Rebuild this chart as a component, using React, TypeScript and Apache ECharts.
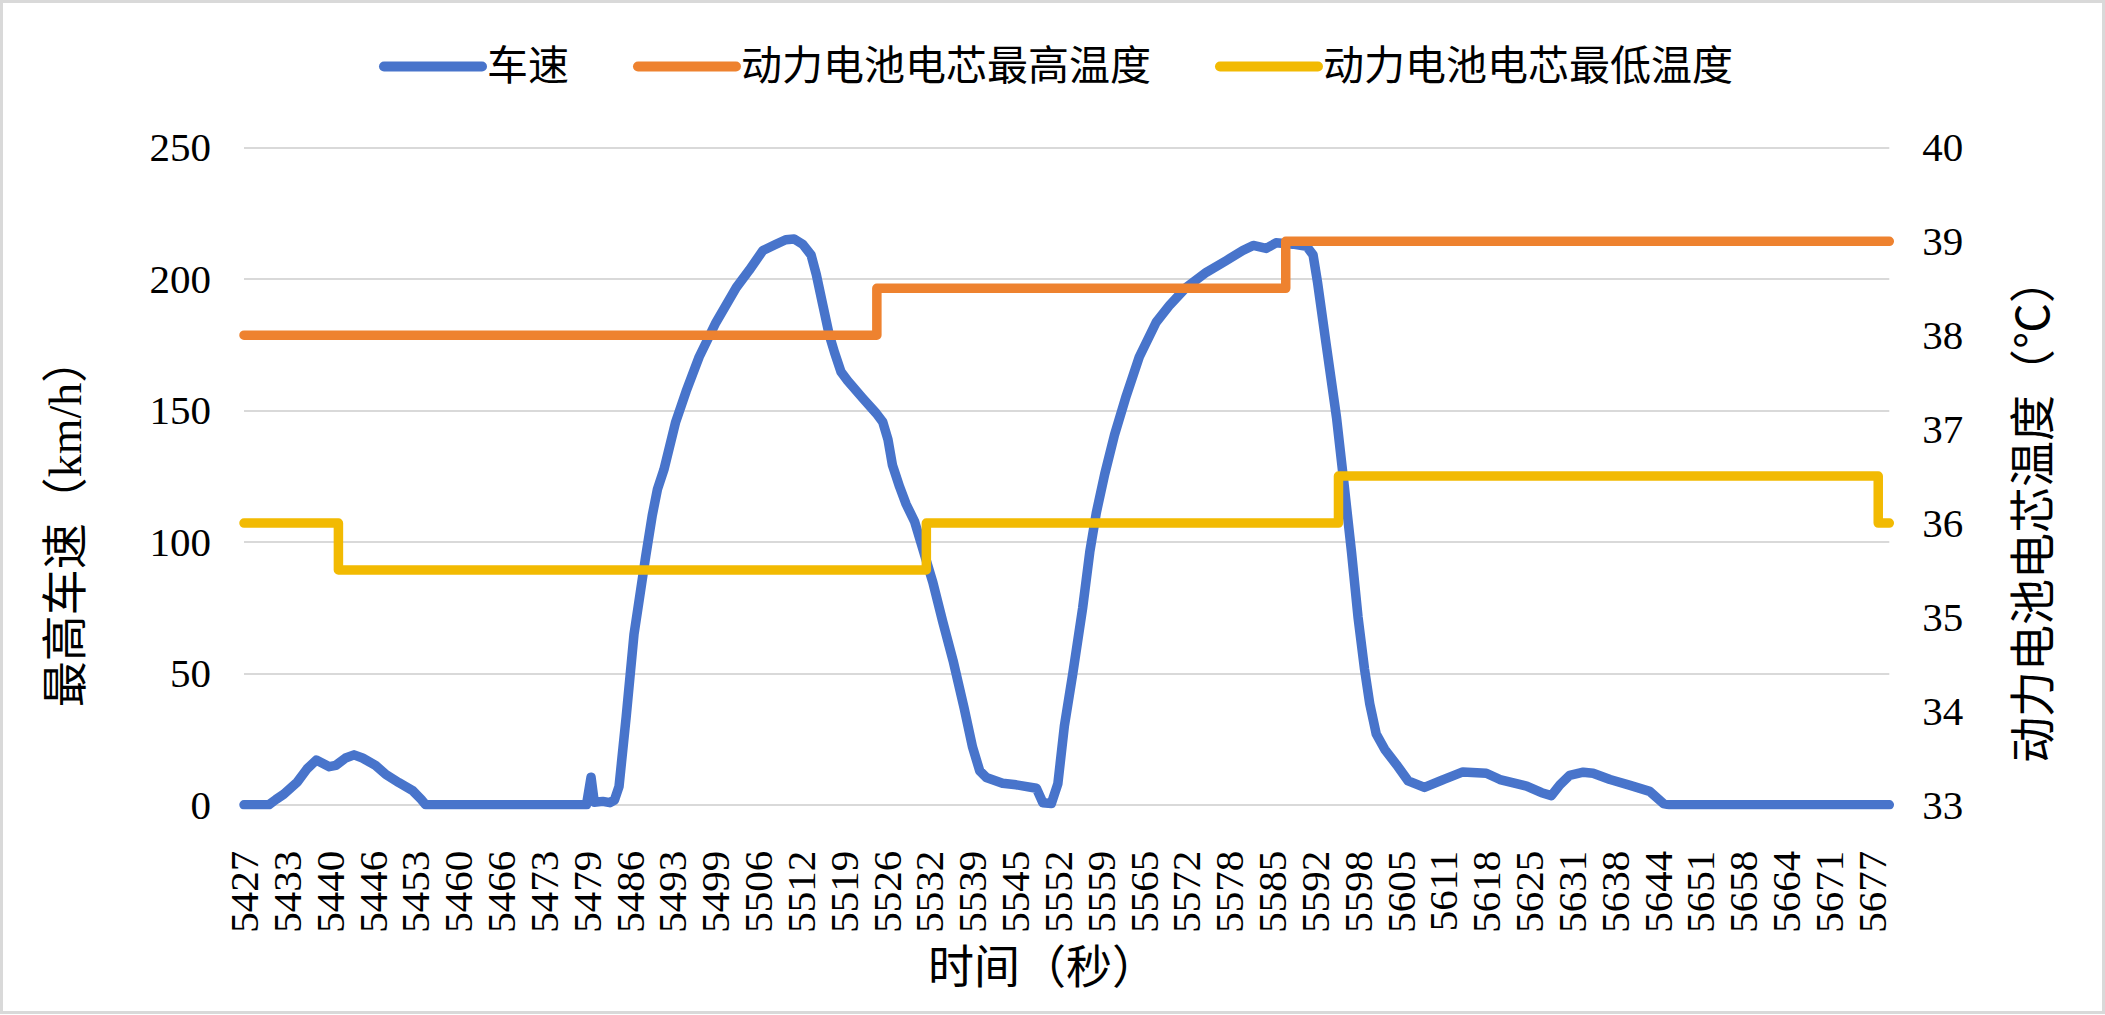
import React, { useEffect, useRef } from 'react';
import * as echarts from 'echarts';

// ---- Data ----
const tickLabels = [
  '5427', '5433', '5440', '5446', '5453', '5460', '5466', '5473', '5479', '5486',
  '5493', '5499', '5506', '5512', '5519', '5526', '5532', '5539', '5545', '5552',
  '5559', '5565', '5572', '5578', '5585', '5592', '5598', '5605', '5611', '5618',
  '5625', '5631', '5638', '5644', '5651', '5658', '5664', '5671', '5677',
];
const startTime = 5427;
const secondsPerTick = 250 / 38;
const endTime = 5679.7;

const seriesNames = ['车速', '动力电池电芯最高温度', '动力电池电芯最低温度'];

// [time (s), speed (km/h)]
const speedPoints: [number, number][] = [
  [5427.0, 0], [5430.8, 0], [5431.9, 2], [5433.1, 4], [5435.2, 8.7], [5436.7, 13.7],
  [5438.1, 17], [5440.1, 14.5], [5441.1, 15], [5442.6, 17.8], [5443.9, 19], [5445.2, 17.8],
  [5447.2, 15], [5448.8, 11.5], [5450.8, 8.4], [5452.9, 5.4], [5454.2, 2.1], [5454.9, 0],
  [5479.6, 0], [5480.3, 10.5], [5480.8, 1], [5482.1, 1.3], [5483.2, 0.8], [5483.9, 1.8],
  [5484.6, 7], [5485.7, 33.5], [5486.9, 64.8], [5487.7, 78], [5488.7, 94.5], [5489.7, 110],
  [5490.5, 120], [5491.5, 127.5], [5493.3, 145.6], [5494.9, 157.2], [5496.9, 170.3],
  [5499.5, 183.5], [5502.6, 196.7], [5504.6, 203.3], [5506.7, 210.8], [5508.7, 213.2],
  [5510.2, 214.9], [5511.5, 215.2], [5512.8, 213.2], [5514.1, 209.1], [5514.9, 201.7],
  [5515.9, 190.1], [5516.9, 178.6], [5517.7, 172], [5518.7, 164.6], [5519.7, 161.3],
  [5522.0, 154.7], [5524.1, 148.9], [5525.1, 145.6], [5525.9, 139], [5526.6, 129.1],
  [5527.7, 120.9], [5528.7, 114.3], [5530.0, 107.7], [5531.2, 97.8], [5532.8, 84.6],
  [5534.3, 69.8], [5535.9, 54.9], [5537.6, 36.8], [5538.9, 21.9], [5540.0, 12.9],
  [5541.0, 10.4], [5543.5, 8.2], [5545.6, 7.6], [5548.7, 6.3], [5549.7, 0.8], [5551.0, 0.5],
  [5552.0, 8], [5553.0, 30], [5554.3, 50], [5555.8, 74.7], [5556.9, 96.1], [5557.9, 111],
  [5559.2, 125.8], [5560.7, 140.7], [5562.5, 155.5], [5564.5, 170.3], [5567.1, 183.5],
  [5569.2, 190.1], [5571.7, 196.7], [5574.8, 202.5], [5577.9, 207], [5580.4, 210.8],
  [5582.0, 212.7], [5584.0, 211.6], [5585.5, 213.7], [5588.1, 213.2], [5590.2, 212.4],
  [5591.2, 209.1], [5591.9, 198.4], [5593.2, 175.3], [5594.8, 147.3], [5596.0, 120.9],
  [5597.1, 96.1], [5598.1, 71.4], [5599.1, 51.6], [5599.9, 38.4], [5600.9, 26.9],
  [5602.2, 21.1], [5604.0, 15.3], [5605.8, 9.1], [5608.3, 6.6], [5611.2, 9.6],
  [5614.2, 12.5], [5617.8, 12], [5619.9, 9.6], [5624.0, 7.1], [5626.3, 4.6], [5627.8, 3.5],
  [5629.1, 7.6], [5630.6, 11.2], [5632.7, 12.4], [5634.2, 12], [5636.8, 9.6], [5639.9, 7.4],
  [5642.9, 5.1], [5645.0, 0.5], [5646.0, 0], [5679.7, 0],
];

// [time (s), temperature (°C)] — value holds until next time
const maxTempSteps: [number, number][] = [
  [5427.0, 38], [5524.2, 38.5], [5587.0, 39], [5679.7, 39],
];
const minTempSteps: [number, number][] = [
  [5427.0, 36], [5441.5, 35.5], [5531.8, 36], [5595.1, 36.5], [5678.0, 36], [5679.7, 36],
];

const colors = ['#4874CB', '#EE822F', '#F2BA02'];
const FONT = '"Liberation Serif", "Noto Sans CJK SC", serif';

const toIdx = (t: number) => (t - startTime) / secondsPerTick;
const mapPts = (pts: [number, number][]) => pts.map(([t, v]) => [toIdx(t), v]);

export default function App() {
  const ref = useRef<HTMLDivElement>(null);

  useEffect(() => {
    document.body.style.margin = '0';
    if (!ref.current) return;
    const chart = echarts.init(ref.current, undefined, { renderer: 'svg' });

    const lineStyle = (c: string) => ({ color: c, width: 9.5, cap: 'round', join: 'round' });
    const labelBase = { fontSize: 41, fontFamily: FONT, color: '#000' };

    const option: any = {
      animation: false,
      backgroundColor: '#ffffff',
      color: colors,
      grid: { left: 244, right: 215.7, top: 147.4, bottom: 210.2, containLabel: false },
      legend: {
        data: seriesNames,
        left: 374,
        top: 41,
        itemWidth: 98,
        itemHeight: 14,
        itemGap: 64,
        textStyle: { ...labelBase },
        lineStyle: { width: 10, cap: 'round' },
        itemStyle: { opacity: 0 },
      },
      xAxis: {
        type: 'value',
        min: 0,
        max: toIdx(endTime),
        interval: 1,
        axisLine: { show: false },
        axisTick: { show: false },
        splitLine: { show: false },
        axisLabel: {
          ...labelBase,
          rotate: 90,
          margin: 46,
          showMaxLabel: false,
          formatter: (v: number) => {
            const k = Math.round(v);
            return Math.abs(v - k) < 1e-6 && k >= 0 && k < tickLabels.length ? tickLabels[k] : '';
          },
        },
      },
      yAxis: [
        {
          type: 'value',
          min: 0,
          max: 250,
          interval: 50,
          axisLine: { show: false },
          axisTick: { show: false },
          splitLine: { show: true, lineStyle: { color: '#d9d9d9', width: 2 } },
          axisLabel: { ...labelBase, margin: 33 },
        },
        {
          type: 'value',
          position: 'right',
          min: 33,
          max: 40,
          interval: 1,
          axisLine: { show: false },
          axisTick: { show: false },
          splitLine: { show: false },
          axisLabel: { ...labelBase, margin: 33 },
        },
      ],
      series: [
        {
          name: seriesNames[0],
          type: 'line',
          yAxisIndex: 0,
          data: mapPts(speedPoints),
          symbol: 'none',
          showSymbol: false,
          lineStyle: lineStyle(colors[0]),
          z: 2,
        },
        {
          name: seriesNames[1],
          type: 'line',
          yAxisIndex: 1,
          step: 'end',
          data: mapPts(maxTempSteps),
          symbol: 'none',
          showSymbol: false,
          lineStyle: lineStyle(colors[1]),
          z: 3,
        },
        {
          name: seriesNames[2],
          type: 'line',
          yAxisIndex: 1,
          step: 'end',
          data: mapPts(minTempSteps),
          symbol: 'none',
          showSymbol: false,
          lineStyle: lineStyle(colors[2]),
          z: 4,
        },
      ],
      graphic: [
        {
          type: 'rect',
          silent: true,
          z: -10,
          shape: { x: 1.5, y: 1.5, width: 2102, height: 1011 },
          style: { fill: 'none', stroke: '#d9d9d9', lineWidth: 3 },
        },
        {
          type: 'text',
          x: 65,
          y: 522,
          rotation: Math.PI / 2,
          style: {
            text: '最高车速（km/h）',
            fontSize: 46,
            fontFamily: FONT,
            fill: '#000',
            align: 'center',
            verticalAlign: 'middle',
          },
        },
        {
          type: 'text',
          x: 2033,
          y: 510,
          rotation: Math.PI / 2,
          style: {
            text: '动力电池电芯温度（℃）',
            fontSize: 46,
            fontFamily: FONT,
            fill: '#000',
            align: 'center',
            verticalAlign: 'middle',
          },
        },
        {
          type: 'text',
          x: 1043,
          y: 967,
          style: {
            text: '时间（秒）',
            fontSize: 46,
            fontFamily: FONT,
            fill: '#000',
            align: 'center',
            verticalAlign: 'middle',
          },
        },
      ],
    };

    chart.setOption(option);
    return () => chart.dispose();
  }, []);

  return <div ref={ref} style={{ width: 2105, height: 1015 }} />;
}
